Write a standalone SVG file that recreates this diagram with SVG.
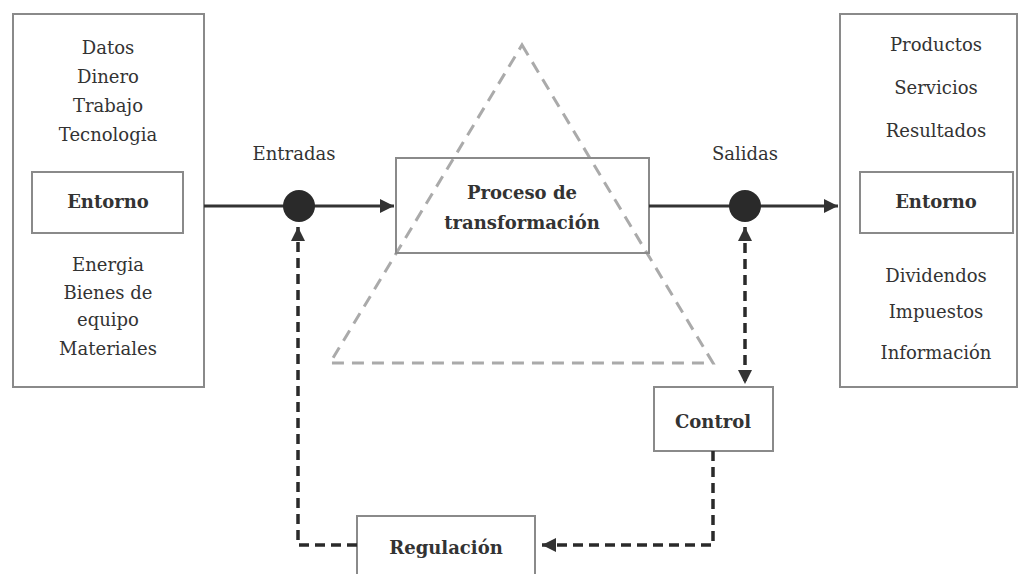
<svg xmlns="http://www.w3.org/2000/svg" width="1019" height="574" viewBox="0 0 1019 574">
<defs>
<style>
.box{fill:#fff;stroke:#8a8a8a;stroke-width:2}
.t{font-family:"DejaVu Serif","Liberation Serif",serif;font-size:18px;fill:#333;text-anchor:middle}
.b{font-weight:bold}
.solid{stroke:#333;stroke-width:3;fill:none}
.dash{stroke:#2a2a2a;stroke-width:3.5;fill:none;stroke-dasharray:10 6}
.tri{stroke:#aaa;stroke-width:3;fill:none;stroke-dasharray:12 8}
</style>
<marker id="ah" viewBox="0 0 10 10" refX="10" refY="5" markerWidth="8" markerHeight="8" markerUnits="userSpaceOnUse" orient="auto-start-reverse">
<path d="M0,0 L10,5 L0,10 z" fill="#333"/>
</marker>
<marker id="ahs" viewBox="0 0 10 10" refX="10" refY="5" markerWidth="18" markerHeight="14" markerUnits="userSpaceOnUse" orient="auto-start-reverse">
<path d="M0,0 L10,5 L0,10 z" fill="#333"/>
</marker>
</defs>
<rect width="1019" height="574" fill="#fff"/>

<g id="triangle">
<path class="tri" d="M522,45 L713,363 L330,363 Z"/>
</g>

<g id="entorno-left">
<rect class="box" x="13" y="14" width="191" height="373"/>
<text class="t" x="108" y="54">Datos</text>
<text class="t" x="108" y="83">Dinero</text>
<text class="t" x="108" y="112">Trabajo</text>
<text class="t" x="108" y="141">Tecnologia</text>
<rect class="box" x="32" y="172" width="151" height="61"/>
<text class="t b" x="108" y="208">Entorno</text>
<text class="t" x="108" y="271">Energia</text>
<text class="t" x="108" y="299">Bienes de</text>
<text class="t" x="108" y="326">equipo</text>
<text class="t" x="108" y="355">Materiales</text>
</g>

<g id="entorno-right">
<rect class="box" x="840" y="14" width="177" height="373"/>
<text class="t" x="936" y="51">Productos</text>
<text class="t" x="936" y="94">Servicios</text>
<text class="t" x="936" y="137">Resultados</text>
<rect class="box" x="860" y="172" width="153" height="61"/>
<text class="t b" x="936" y="208">Entorno</text>
<text class="t" x="936" y="282">Dividendos</text>
<text class="t" x="936" y="318">Impuestos</text>
<text class="t" x="936" y="359">Información</text>
</g>

<g id="proceso">
<rect class="box" x="396" y="158" width="253" height="95" fill="none" style="fill:none"/>
<text class="t b" x="522" y="199">Proceso de</text>
<text class="t b" x="522" y="229">transformación</text>
</g>

<g id="control">
<rect class="box" x="654" y="387" width="119" height="64"/>
<text class="t b" x="713" y="428">Control</text>
</g>

<g id="regulacion">
<rect class="box" x="357" y="516" width="178" height="70"/>
<text class="t b" x="446" y="554">Regulación</text>
</g>

<g id="labels">
<text class="t" x="294" y="160">Entradas</text>
<text class="t" x="745" y="160">Salidas</text>
</g>

<g id="connectors">
<line class="solid" x1="204" y1="206" x2="300" y2="206"/>
<line class="solid" x1="300" y1="206" x2="394" y2="206" marker-end="url(#ahs)"/>
<line class="solid" x1="649" y1="206" x2="745" y2="206"/>
<line class="solid" x1="745" y1="206" x2="838" y2="206" marker-end="url(#ahs)"/>
<circle cx="299" cy="206" r="16" fill="#2a2a2a"/>
<circle cx="745" cy="206" r="16" fill="#2a2a2a"/>
<path class="dash" d="M357,545 L298,545 L298,227" marker-end="url(#ahs)"/>
<line class="dash" x1="745" y1="227" x2="745" y2="384" marker-start="url(#ahs)" marker-end="url(#ahs)"/>
<path class="dash" d="M713,451 L713,545 L542,545" marker-end="url(#ahs)"/>
</g>
</svg>
